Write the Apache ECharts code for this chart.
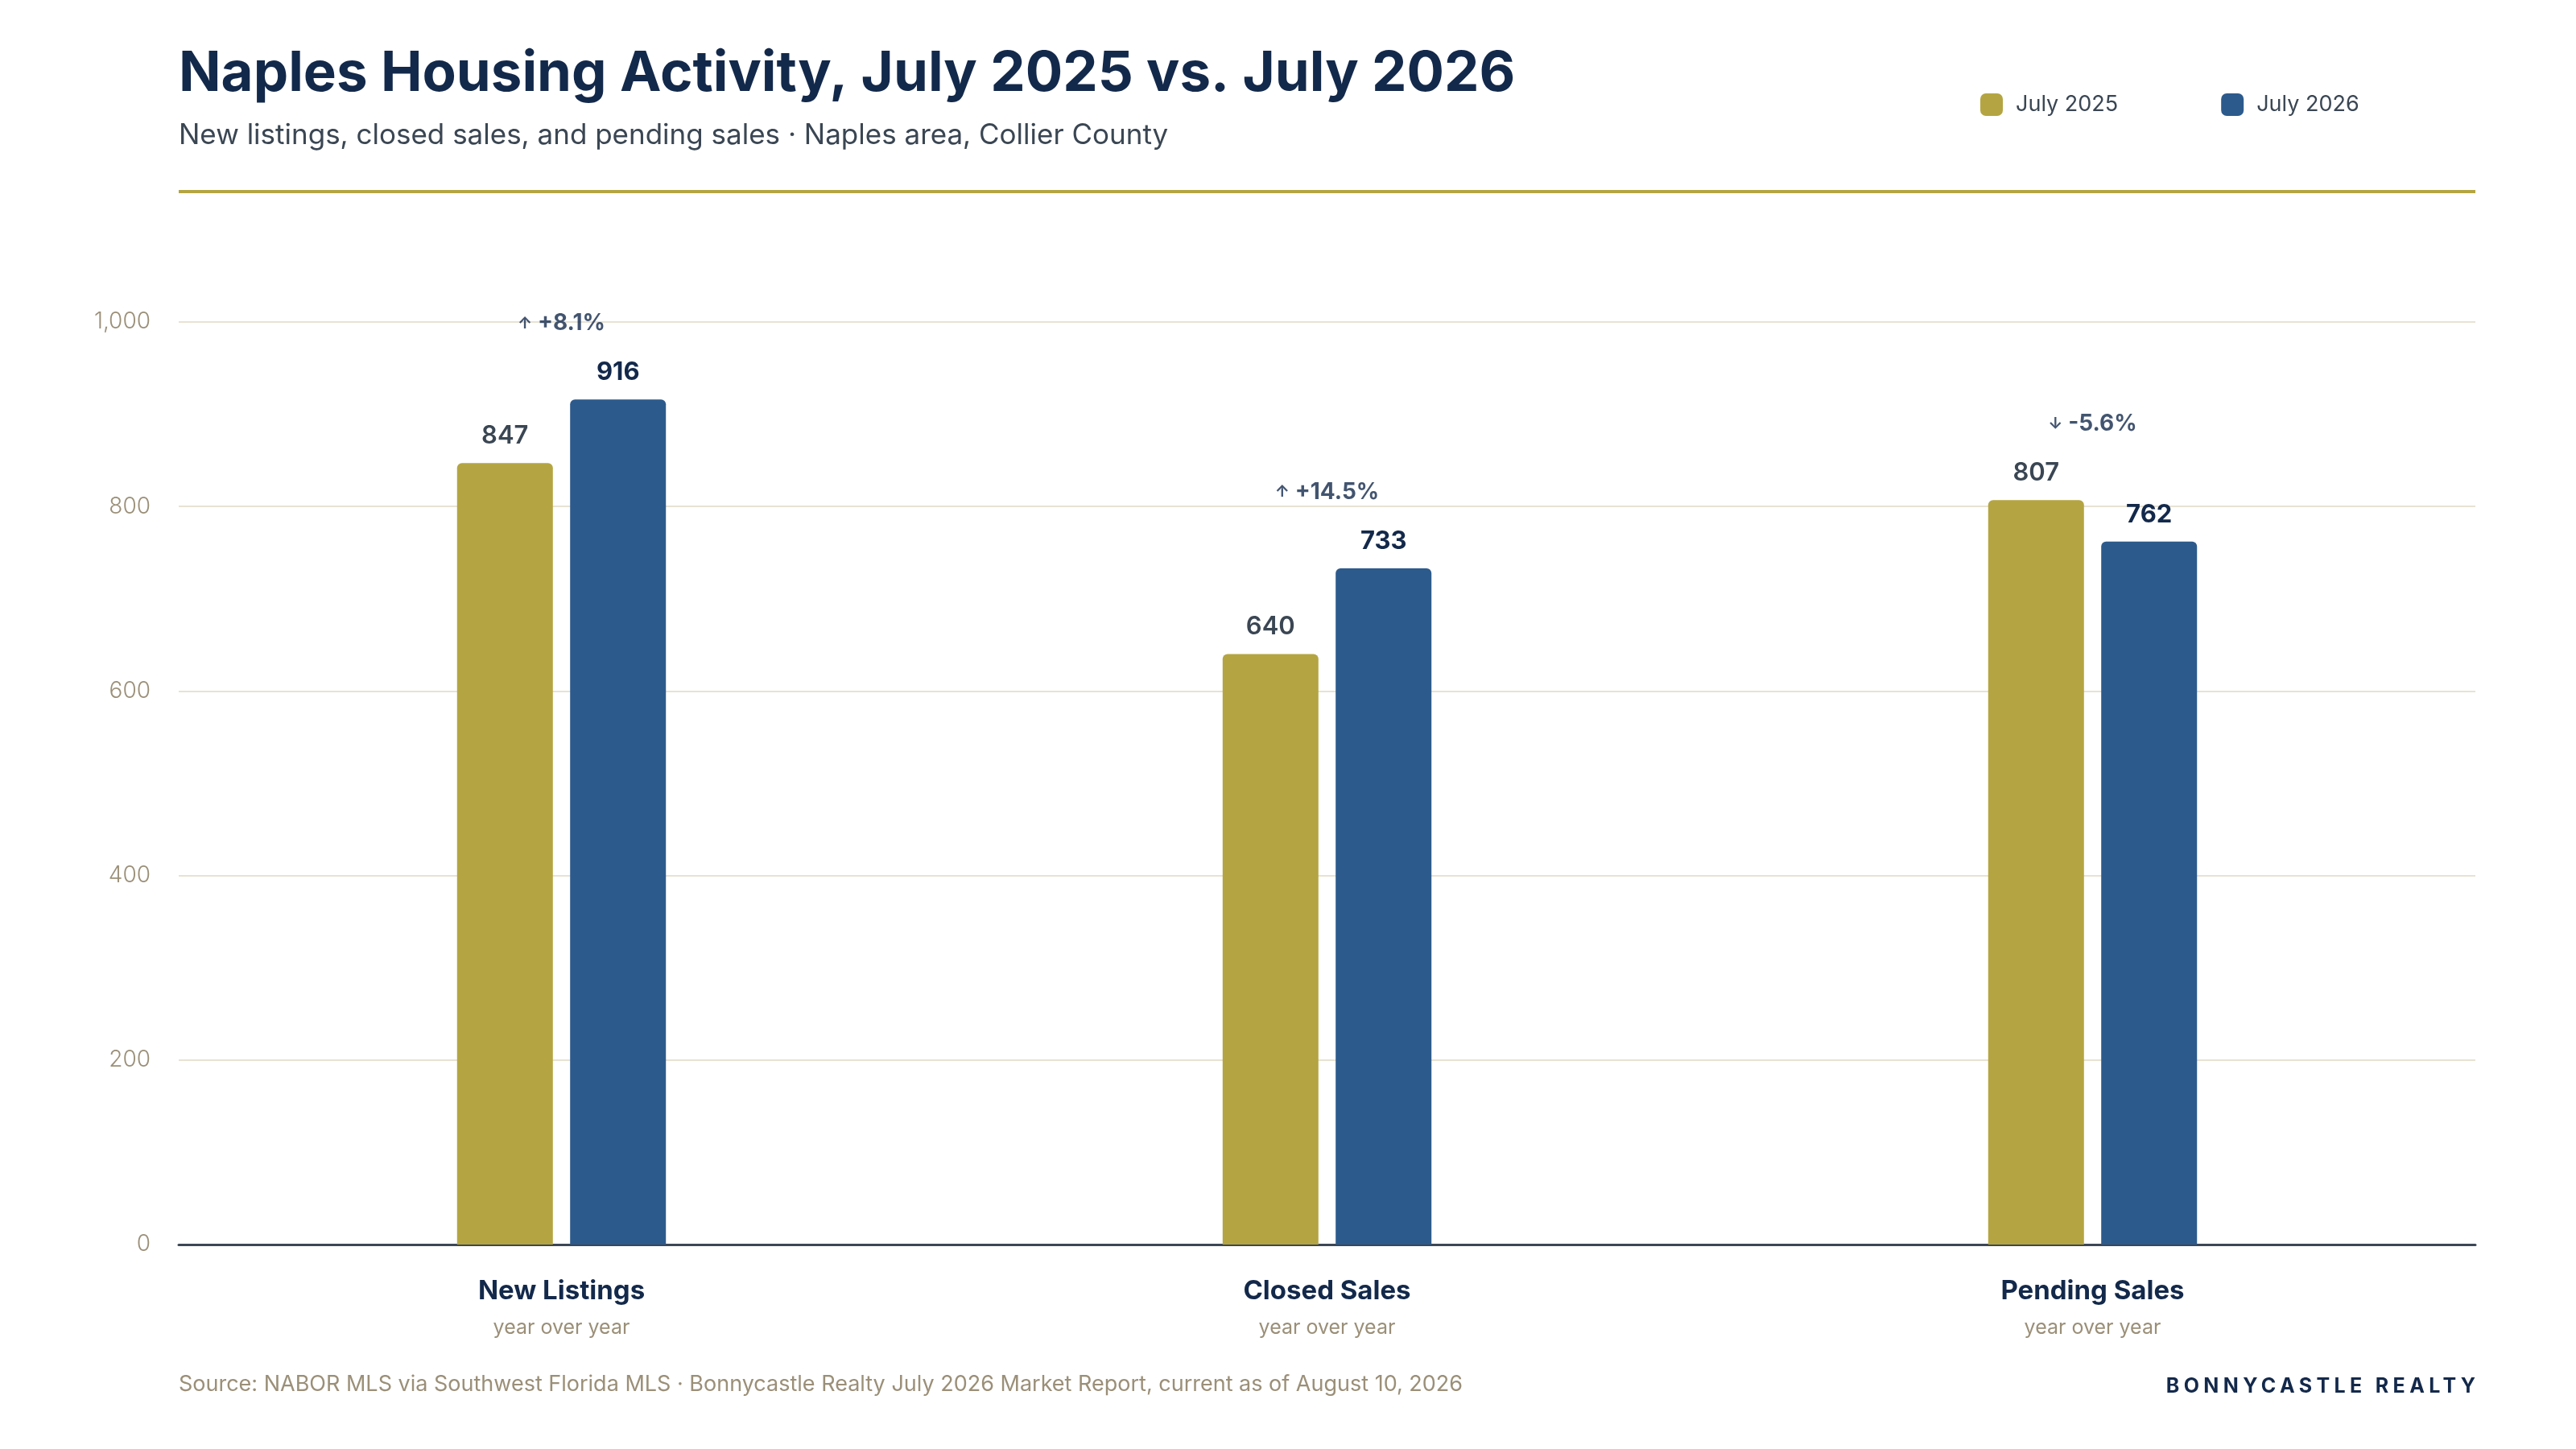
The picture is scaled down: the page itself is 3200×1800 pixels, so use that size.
<!DOCTYPE html>
<html>
<head>
    <meta charset="UTF-8">
    <title>Naples Housing Activity, July 2025 vs. July 2026</title>
    <script src="https://cdn.jsdelivr.net/npm/echarts@6/dist/echarts.min.js"></script>
    <style>
        body { margin: 0; background: #fff; }
        #wrap { position: relative; width: 3200px; height: 1800px; }
        #chart { width: 3200px; height: 1800px; }
        #brand {
            position: absolute; right: 125px; top: 1706px;
            font-family: Inter, sans-serif; font-weight: 700; font-size: 25px;
            letter-spacing: 0.215em; color: #13294b; margin-right: -0.215em;
        }
    </style>
</head>
<body>
<div id="wrap">
    <div id="chart"></div>
    <div id="brand">BONNYCASTLE REALTY</div>
</div>
<script type="text/javascript">

    // values
    var categories = ['New Listings', 'Closed Sales', 'Pending Sales'];
    var july2025 = [847, 640, 807];
    var july2026 = [916, 733, 762];
    var yoyChange = [8.1, 14.5, -5.6];   // % change labels shown above each group
    var seriesNames = ['July 2025', 'July 2026'];

    var GOLD = '#b4a542', BLUE = '#2d5a8c', NAVY = '#13294b', INK = '#3a4653', TAN = '#9b8f78';
    var FONT = 'Inter, "Open Sans", sans-serif';

    var myChart = echarts.init(document.getElementById('chart'));

    // top of each group (for placing the yoy label)
    var groupTop = categories.map(function (c, i) {
        return Math.max(july2025[i], july2026[i]);
    });

    myChart.setOption({
        backgroundColor: '#ffffff',
        textStyle: {fontFamily: FONT},
        graphic: [
            {
                type: 'text', left: 222, top: 58,
                style: {text: 'Naples Housing Activity, July 2025 vs. July 2026', font: '700 69px ' + FONT, fill: NAVY}
            },
            {
                type: 'text', left: 222, top: 151,
                style: {text: 'New listings, closed sales, and pending sales \u00b7 Naples area, Collier County', font: '400 35px ' + FONT, fill: INK}
            },
            {
                type: 'rect', shape: {x: 222, y: 236, width: 2853, height: 4},
                style: {fill: GOLD}
            },
            {
                type: 'text', left: 222, top: 1706,
                style: {text: 'Source: NABOR MLS via Southwest Florida MLS \u00b7 Bonnycastle Realty July 2026 Market Report, current as of August 10, 2026', font: '400 27px ' + FONT, fill: TAN}
            }
        ],
        legend: {
            data: seriesNames,
            left: 2460, top: 116, padding: 0,
            icon: 'roundRect',
            itemWidth: 28, itemHeight: 28,
            itemGap: 128,
            textStyle: {fontSize: 27, color: INK, padding: [0, 0, 0, 11]}
        },
        grid: {left: 222, right: 125, top: 400, bottom: 254, containLabel: false},
        xAxis: {
            type: 'category',
            data: categories,
            axisTick: {show: false},
            axisLine: {lineStyle: {color: '#3b4756', width: 3}},
            axisLabel: {
                margin: 38,
                formatter: function (v) { return '{t|' + v + '}\n{s|year over year}'; },
                rich: {
                    t: {fontSize: 33, fontWeight: 700, color: NAVY, lineHeight: 40, fontFamily: FONT},
                    s: {fontSize: 25, color: TAN, lineHeight: 50, fontFamily: FONT}
                }
            }
        },
        yAxis: {
            type: 'value',
            min: 0, max: 1000, interval: 200,
            axisLine: {show: false},
            axisTick: {show: false},
            splitLine: {lineStyle: {color: '#e8e2d4', width: 2}},
            axisLabel: {
                margin: 35, fontSize: 28, color: TAN, fontWeight: 300,
                formatter: function (v) { return v.toLocaleString('en-US'); }
            }
        },
        series: [
            {
                name: seriesNames[0], type: 'bar', data: july2025,
                barWidth: 119, barGap: '18%',
                itemStyle: {color: GOLD, borderRadius: [6, 6, 0, 0]},
                label: {show: true, position: 'top', distance: 18, fontSize: 31, fontWeight: 600, color: INK}
            },
            {
                name: seriesNames[1], type: 'bar', data: july2026,
                barWidth: 119,
                itemStyle: {color: BLUE, borderRadius: [6, 6, 0, 0]},
                label: {show: true, position: 'top', distance: 18, fontSize: 31, fontWeight: 700, color: NAVY}
            },
            {
                name: 'yoy', type: 'scatter', data: groupTop,
                symbolSize: 1, itemStyle: {color: 'rgba(0,0,0,0)'}, silent: true,
                label: {
                    show: true, position: 'top', distance: 80,
                    formatter: function (p) {
                        var c = yoyChange[p.dataIndex];
                        return '{a|' + (c >= 0 ? '\u2191' : '\u2193') + '}  {p|' + (c >= 0 ? '+' : '') + c.toFixed(1) + '%}';
                    },
                    rich: {
                        a: {fontSize: 20, fontWeight: 700, color: NAVY, fontFamily: FONT},
                        p: {fontSize: 28, fontWeight: 700, color: NAVY, fontFamily: FONT}
                    }
                }
            }
        ]
    });
</script>
</body>
</html>
